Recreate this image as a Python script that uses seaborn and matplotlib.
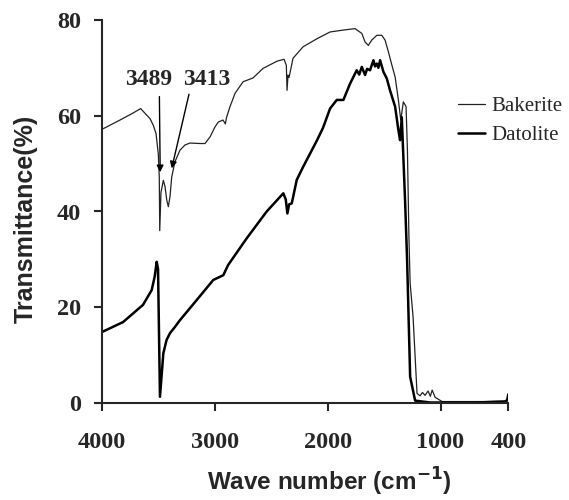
import matplotlib
matplotlib.use("Agg")
import matplotlib.pyplot as plt
import seaborn as sns
import pandas as pd

# ---- data ----
bakerite_wn = [4000, 3986, 3838, 3720, 3655, 3616, 3572, 3543, 3519, 3499, 3490,
               3486, 3475, 3454, 3439, 3424, 3410, 3395, 3380, 3351, 3307, 3262,
               3218, 3129, 3085, 3040, 2996, 2967, 2926, 2905, 2895, 2864, 2819,
               2748, 2660, 2571, 2447, 2385, 2365, 2359, 2350, 2341, 2306, 2217,
               2093, 1978, 1860, 1757, 1697, 1668, 1639, 1609, 1564, 1520, 1491,
               1462, 1431, 1402, 1373, 1352, 1329, 1305, 1293, 1280, 1269, 1243,
               1208, 1181, 1160, 1137, 1110, 1090, 1074, 1048, 986, 800, 600, 400]
bakerite_t = [57.2, 57.3, 59.1, 60.6, 61.5, 60.5, 59.4, 58.0, 56.3, 52.1, 47.2,
              36.0, 44.0, 46.5, 45.2, 42.4, 41.0, 43.1, 47.2, 50.4, 52.8, 53.9,
              54.3, 54.2, 54.2, 55.6, 57.7, 58.7, 59.1, 58.3, 59.6, 61.9, 64.7,
              67.1, 67.9, 69.9, 71.4, 71.8, 70.5, 65.3, 68.5, 68.0, 72.0, 74.4,
              76.1, 77.5, 77.9, 78.2, 77.2, 75.4, 74.7, 75.8, 76.8, 76.8, 75.8,
              73.4, 70.6, 68.1, 63.3, 59.1, 62.9, 61.9, 52.8, 35.0, 25.0, 18.0,
              2.0, 1.5, 2.2, 1.6, 2.5, 1.4, 2.7, 1.2, 0.3, 0.3, 0.3, 0.4]

datolite_wn = [4000, 3811, 3634, 3557, 3530, 3513, 3501, 3484, 3454, 3425, 3395,
               3351, 3307, 3159, 3012, 2923, 2881, 2716, 2539, 2392, 2370, 2356,
               2340, 2317, 2273, 2217, 2093, 2040, 1978, 1919, 1860, 1801, 1742,
               1720, 1697, 1668, 1650, 1624, 1594, 1580, 1564, 1550, 1535, 1506,
               1476, 1447, 1402, 1373, 1358, 1343, 1314, 1296, 1269, 1225, 1092,
               700, 430, 410, 400]
datolite_t = [14.8, 16.9, 20.5, 23.6, 26.5, 29.5, 28.0, 1.3, 10.4, 13.2, 14.6,
              15.9, 17.3, 21.5, 25.7, 26.7, 28.8, 34.4, 40.0, 43.8, 42.5, 39.6,
              41.5, 41.7, 46.6, 49.3, 54.9, 57.5, 61.5, 63.3, 63.3, 66.7, 69.5,
              68.6, 70.2, 68.5, 69.8, 69.5, 71.6, 70.3, 70.9, 70.0, 71.6, 69.2,
              67.8, 65.3, 61.9, 57.0, 54.9, 59.7, 42.4, 30.0, 5.5, 0.5, 0.1,
              0.1, 0.3, 0.6, 1.8]

x_ticks = [4000, 3000, 2000, 1000, 400]
y_ticks = [0, 20, 40, 60, 80]

df_b = pd.DataFrame({"wn": bakerite_wn, "T": bakerite_t})
df_d = pd.DataFrame({"wn": datolite_wn, "T": datolite_t})

sns.set_style("ticks")
plt.rcParams["font.family"] = ["Liberation Serif", "DejaVu Serif"]

fig = plt.figure(figsize=(5.69, 5.0), dpi=100)
ax = fig.add_axes([0.1787, 0.194, 0.8933 - 0.1787, 0.96 - 0.194])

sns.lineplot(data=df_b, x="wn", y="T", ax=ax, color="#222222", lw=0.9,
             sort=False, estimator=None, label="Bakerite")
sns.lineplot(data=df_d, x="wn", y="T", ax=ax, color="black", lw=1.8,
             sort=False, estimator=None, label="Datolite")

ax.set_xlim(4000, 400)
ax.set_ylim(0, 80)
ax.set_xticks(x_ticks)
ax.set_xticklabels([str(v) for v in x_ticks])
ax.set_yticks(y_ticks)
ax.set_yticklabels([str(v) for v in y_ticks])

for lab in ax.get_xticklabels() + ax.get_yticklabels():
    lab.set_fontweight("bold")
    lab.set_fontsize(17.5)
    lab.set_fontfamily(["Liberation Serif"])

ax.tick_params(axis="both", direction="out", length=6, width=1.5)
ax.tick_params(axis="x", pad=15)
ax.tick_params(axis="y", pad=9)

sns.despine(ax=ax)
for s in ["left", "bottom"]:
    ax.spines[s].set_linewidth(1.5)

ax.set_xlabel("Wave number (cm$^{\\mathbf{-1}}$)", fontsize=17.5, fontweight="bold",
              fontfamily=["Liberation Sans"])
ax.xaxis.set_label_coords(0.56, -0.165)
ax.set_ylabel("Transmittance(%)", fontsize=18, fontweight="bold",
              fontfamily=["Liberation Sans"])
ax.yaxis.set_label_coords(-0.157, 0.48)

ax.annotate("", xy=(3482, 48.2), xytext=(3489, 64.0),
            arrowprops=dict(arrowstyle="-|>", color="black", lw=1.0,
                            mutation_scale=10, shrinkA=0, shrinkB=0))
ax.annotate("", xy=(3380, 49.0), xytext=(3227, 64.5),
            arrowprops=dict(arrowstyle="-|>", color="black", lw=1.0,
                            mutation_scale=10, shrinkA=0, shrinkB=0))
ax.text(3580, 67.6, "3489", ha="center", va="center", fontsize=17,
        fontweight="bold", fontfamily=["Liberation Serif"])
ax.text(3066, 67.6, "3413", ha="center", va="center", fontsize=17,
        fontweight="bold", fontfamily=["Liberation Serif"])

leg = ax.legend(loc="upper left", bbox_to_anchor=(0.876, 0.80), frameon=False,
                handlelength=1.3, handletextpad=0.3, labelspacing=0.45,
                borderpad=0, borderaxespad=0,
                prop={"family": "Liberation Serif", "size": 15})

fig.savefig("out.png", dpi=100)
